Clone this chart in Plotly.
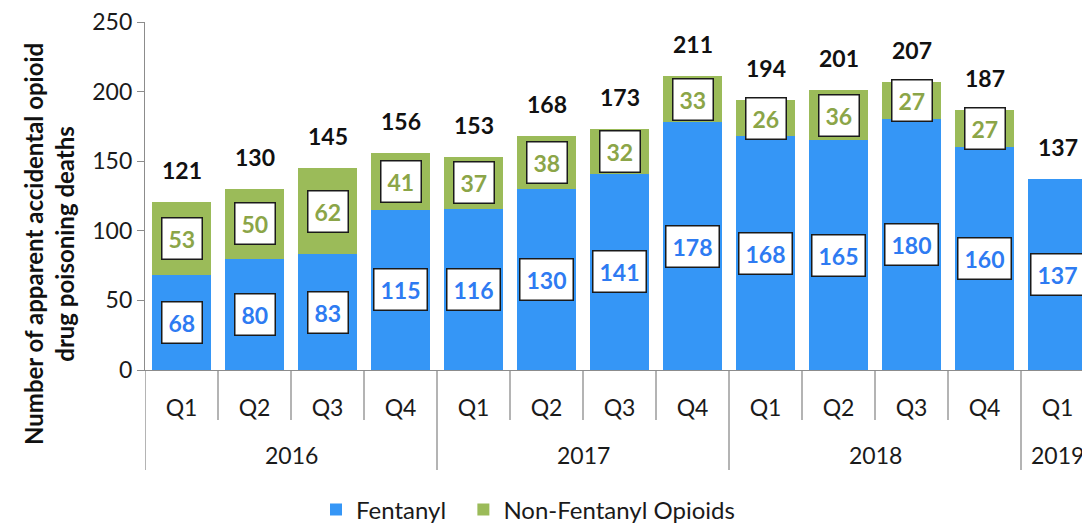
import plotly.graph_objects as go

quarters = ["Q1", "Q2", "Q3", "Q4", "Q1", "Q2", "Q3", "Q4", "Q1", "Q2", "Q3", "Q4", "Q1"]
years = ["2016", "2017", "2018", "2019"]
year_groups = [[0, 1, 2, 3], [4, 5, 6, 7], [8, 9, 10, 11], [12]]
fentanyl = [68, 80, 83, 115, 116, 130, 141, 178, 168, 165, 180, 160, 137]
non_fentanyl = [53, 50, 62, 41, 37, 38, 32, 33, 26, 36, 27, 27, 0]
totals = [f + n for f, n in zip(fentanyl, non_fentanyl)]
series_names = ["Fentanyl", "Non-Fentanyl Opioids"]

BLUE = "#3596F6"
GREEN = "#9BBB59"
BLUE_TXT = "#2E7BF2"
GREEN_TXT = "#8BA548"
FONT = "Lato"
AX = "#8c8c8c"
FS = 23

xs = list(range(len(quarters)))

fig = go.Figure()
fig.add_bar(x=xs, y=fentanyl, name=series_names[0] + "\u00a0\u00a0",
            marker=dict(color=BLUE, line=dict(width=0)))
fig.add_bar(x=xs, y=non_fentanyl, name=series_names[1],
            marker=dict(color=GREEN, line=dict(width=0)))

ann = []
for i in xs:
    ann.append(dict(x=i, y=totals[i], text="<b>%d</b>" % totals[i], showarrow=False,
                    yshift=32, font=dict(family=FONT, size=FS, color="#111111")))
    ann.append(dict(x=i, y=fentanyl[i] / 2, text="<b>%d</b>" % fentanyl[i], showarrow=False,
                    bgcolor="white", bordercolor="#1a1a1a", borderwidth=1.5, borderpad=6,
                    font=dict(family=FONT, size=FS, color=BLUE_TXT)))
    if non_fentanyl[i] > 0:
        ann.append(dict(x=i, y=fentanyl[i] + non_fentanyl[i] / 2, text="<b>%d</b>" % non_fentanyl[i],
                        showarrow=False, bgcolor="white", bordercolor="#1a1a1a", borderwidth=1.5,
                        borderpad=6, font=dict(family=FONT, size=FS, color=GREEN_TXT)))

for name, grp in zip(years, year_groups):
    ann.append(dict(x=sum(grp) / len(grp), y=-0.244, xref="x", yref="paper", text=name,
                    showarrow=False, yanchor="middle",
                    font=dict(family=FONT, size=FS, color="#1a1a1a")))

ann.append(dict(x=0, y=0.362, xref="paper", yref="paper", xshift=-96, textangle=-90,
                text="<b>Number of apparent accidental opioid<br>drug poisoning deaths</b>",
                showarrow=False, xanchor="center", yanchor="middle",
                font=dict(family=FONT, size=24, color="#111111")))

shapes = []
year_bounds = [-0.5, 3.5, 7.5, 11.5]
for b in [i - 0.5 for i in range(len(quarters))]:
    low = -0.287 if b in year_bounds else -0.144
    shapes.append(dict(type="line", xref="x", yref="paper", x0=b, x1=b, y0=0, y1=low,
                       line=dict(color=AX, width=1.3)))

fig.update_layout(
    width=1082, height=523,
    margin=dict(l=145, r=0, t=22, b=153, autoexpand=False),
    barmode="stack", bargap=0.2,
    plot_bgcolor="white", paper_bgcolor="white",
    font=dict(family=FONT, size=FS, color="#1a1a1a"),
    showlegend=True,
    legend=dict(orientation="h", x=0.1825, xanchor="left", y=-0.402, yanchor="middle",
                font=dict(family=FONT, size=24, color="#1a1a1a"), itemwidth=30,
                traceorder="normal"),
    annotations=ann, shapes=shapes,
)
fig.update_xaxes(range=[-0.5, -0.5 + 937 / 73], tickvals=xs, ticktext=quarters,
                 showgrid=False, showline=True, linecolor=AX, linewidth=1.3,
                 ticks="", ticklabelstandoff=17, zeroline=False, automargin=False,
                 tickfont=dict(family=FONT, size=FS, color="#1a1a1a"))
fig.update_yaxes(range=[0, 250], dtick=50, showgrid=False, showline=True, linecolor=AX,
                 linewidth=1.3, ticks="outside", ticklen=7, tickcolor=AX, zeroline=False,
                 automargin=False,
                 tickfont=dict(family=FONT, size=FS, color="#1a1a1a"))

fig.write_html("out.html", config={"displayModeBar": False},
               post_script="document.body.style.margin='0';document.body.style.overflow='hidden';")
